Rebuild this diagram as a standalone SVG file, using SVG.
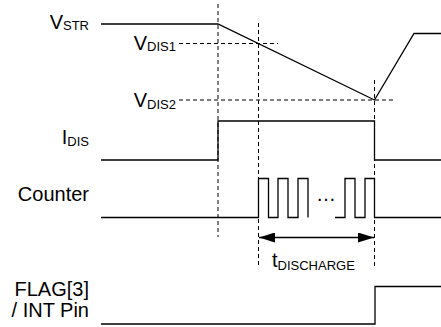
<svg xmlns="http://www.w3.org/2000/svg" width="441" height="327" viewBox="0 0 441 327">
<defs>
<style>
.lbl{font-family:"Liberation Sans",Arial,sans-serif;font-size:20px;fill:#000}
.sub{font-size:13px}
.w{fill:none;stroke:#000;stroke-width:1.3}
.d{fill:none;stroke:#000;stroke-width:1;stroke-dasharray:4 3}
</style>
<marker id="ah" viewBox="0 0 16 10" refX="16" refY="5" markerWidth="16" markerHeight="10" markerUnits="userSpaceOnUse" orient="auto-start-reverse">
<path d="M0,0 L16,5 L0,10 Z" fill="#000"/>
</marker>
</defs>
<rect width="441" height="327" fill="#fff"/>
<g id="labels">
<text class="lbl" x="89" y="28.5" text-anchor="end">V<tspan class="sub" dy="1.5">STR</tspan></text>
<text class="lbl" x="176" y="49.5" text-anchor="end">V<tspan class="sub" dy="1.5">DIS1</tspan></text>
<text class="lbl" x="176" y="107" text-anchor="end">V<tspan class="sub" dy="1.5">DIS2</tspan></text>
<text class="lbl" x="89" y="144" text-anchor="end">I<tspan class="sub" dy="1.5">DIS</tspan></text>
<text class="lbl" x="89" y="200.5" text-anchor="end">Counter</text>
<text class="lbl" x="89" y="296" text-anchor="end">FLAG[3]</text>
<text class="lbl" x="89" y="316.5" text-anchor="end">/ INT Pin</text>
<text class="lbl" x="272" y="267" >t<tspan class="sub" dy="3">DISCHARGE</tspan></text>
<text class="lbl" x="316" y="201">…</text>
</g>
<g id="guides">
<line class="d" x1="218" y1="4" x2="218" y2="237"/>
<line class="d" x1="258.5" y1="23" x2="258.5" y2="265"/>
<line class="d" x1="374.5" y1="80" x2="374.5" y2="267"/>
<line class="d" x1="179" y1="43.5" x2="278" y2="43.5"/>
<line class="d" x1="179" y1="100" x2="395" y2="100"/>
</g>
<g id="waveforms">
<polyline id="v-wave" class="w" points="101,24 218,24 374.5,100 414,33.5 441,33.5"/>
<polyline id="idis-wave" class="w" points="101,160 218,160 218,121 374.5,121 374.5,160 441,160"/>
<polyline id="counter-wave-a" class="w" points="101,217.5 258.5,217.5 258.5,178.5 268.5,178.5 268.5,217.5 278,217.5 278,178.5 288,178.5 288,217.5 298,217.5 298,178.5 308,178.5 308,217.5"/>
<polyline id="counter-wave-b" class="w" points="335,217.5 345,217.5 345,178.5 355,178.5 355,217.5 365,217.5 365,178.5 374.5,178.5 374.5,217.5 441,217.5"/>
<polyline id="flag-wave" class="w" points="101,324 375,324 375,286.5 441,286.5"/>
</g>
<g id="connectors">
<line x1="259" y1="237.5" x2="374" y2="237.5" stroke="#000" stroke-width="1.3" marker-start="url(#ah)" marker-end="url(#ah)"/>
</g>
</svg>
